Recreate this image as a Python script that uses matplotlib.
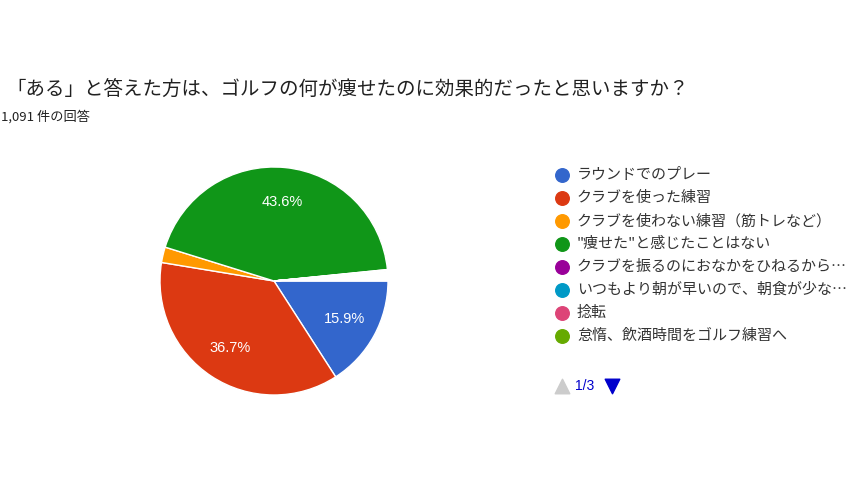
import matplotlib
matplotlib.use("Agg")
import matplotlib.pyplot as plt

plt.rcParams['font.family'] = ['Noto Sans CJK JP', 'DejaVu Sans']

title = "「ある」と答えた方は、ゴルフの何が痩せたのに効果的だったと思いますか？"
subtitle = "1,091 件の回答"
categories = [
    "ラウンドでのプレー",
    "クラブを使った練習",
    "クラブを使わない練習（筋トレなど）",
    "\"痩せた\"と感じたことはない",
    "クラブを振るのにおなかをひねるから…",
    "いつもより朝が早いので、朝食が少な…",
    "捻転",
    "怠惰、飲酒時間をゴルフ練習へ",
]
values = [15.9, 36.7, 2.2, 43.6, 0.1, 0.1, 0.1, 0.1]
other_pages_value = 1.2  # remaining answers on pages 2-3 of the legend
colors = ["#3366CC", "#DC3912", "#FF9900", "#109618",
          "#990099", "#0099C6", "#DD4477", "#66AA00"]
page_label = "1/3"

W, H = 864, 486
fig = plt.figure(figsize=(W / 100, H / 100), dpi=100)

# pie axes
cx, cy, r = 274, 281, 114
ax = fig.add_axes([(cx - r) / W, (H - cy - r) / H, 2 * r / W, 2 * r / H])
all_vals = values + [other_pages_value]
all_cols = colors + ["#FFFFFF"]

def fmt(p):
    return f"{p:.1f}%" if p > 5 else ""

wedges, texts, autotexts = ax.pie(
    all_vals, colors=all_cols, startangle=0, counterclock=False,
    autopct=fmt, pctdistance=0.7, radius=1.0,
    wedgeprops=dict(edgecolor="white", linewidth=1.0),
    textprops=dict(color="white", fontsize=10.5, family=["Liberation Sans", "DejaVu Sans"]),
)
ax.set_xlim(-1, 1)
ax.set_ylim(-1, 1)
ax.set_aspect("equal")
ax.axis("off")

# overlay axes in pixel coordinates for texts and legend
ov = fig.add_axes([0, 0, 1, 1])
ov.set_xlim(0, W)
ov.set_ylim(H, 0)
ov.axis("off")

ov.text(6, 90, title, fontsize=14, color="#212121", va="center", ha="left")
ov.text(1, 117, subtitle, fontsize=9.5, color="#212121", va="center", ha="left",
        family=["Noto Sans CJK JP", "DejaVu Sans"])

y0, dy = 175, 23
for i, (lab, col) in enumerate(zip(categories, colors)):
    y = y0 + i * dy
    ov.scatter([562], [y], s=95, color=col, zorder=3)
    ov.text(577, y, lab, fontsize=10.8, color="#333333", va="center", ha="left")

py = 386
ov.scatter([562], [py], marker="^", s=110, color="#CCCCCC")
ov.text(575, py, page_label, fontsize=10, color="#0000CC", va="center", ha="left",
        family=["Liberation Sans", "DejaVu Sans"])
ov.scatter([612], [py], marker="v", s=110, color="#0000CC")

fig.savefig("out.png", dpi=100, facecolor="white")
